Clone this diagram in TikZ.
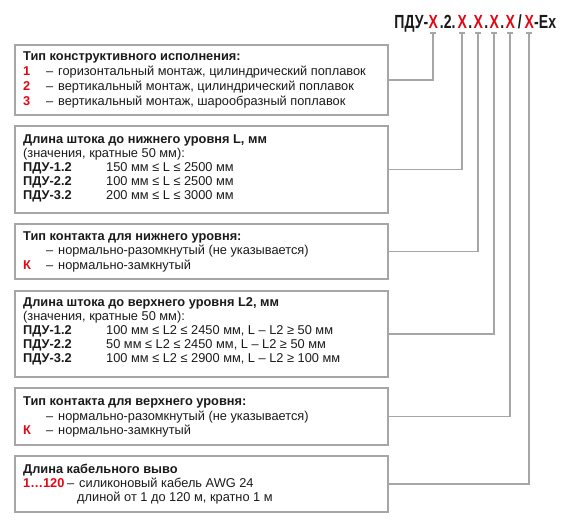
\documentclass[tikz,border=0pt]{standalone}
\usepackage{fontspec}
\setmainfont{Liberation Sans}
\newfontfamily\hdrfont[FakeStretch=0.74]{Liberation Sans}
\definecolor{lnc}{HTML}{A6A6A6}
\definecolor{rd}{HTML}{E30613}
\definecolor{ink}{HTML}{1A1A1A}
\newcommand{\rx}{\makebox[10pt][c]{\color{rd}X}}
\newcommand{\seg}[2]{\makebox[#1][c]{#2}}
\begin{document}
\begin{tikzpicture}[x=1pt,y=-1pt,
  box/.style={draw=lnc, line width=1.5pt, minimum width=373pt, inner sep=0pt},
  txt/.style={anchor=base west, inner sep=0pt, text=ink, font=\fontsize{12.8}{14}\selectfont},
  ttl/.style={txt, font=\fontsize{12.8}{14}\selectfont\bfseries},
  num/.style={ttl, text=rd},
  hdr/.style={anchor=base west, inner sep=0pt, text=ink, font=\hdrfont\fontsize{19}{22}\selectfont\bfseries},
  conn/.style={draw=lnc, line width=1.2pt}
]
\useasboundingbox (0,0) rectangle (568,526);

% header: X centres at 433, 462, 478, 494, 510, 529
\node[hdr] (hd) at (392,29) {\makebox[36pt][r]{ПДУ-}\rx\seg{19pt}{.2.}\rx\seg{6pt}{.}\rx\seg{6pt}{.}\rx\seg{6pt}{.}\rx\seg{9pt}{/}\rx-Ex};
\coordinate (c1) at (433,33);
\coordinate (c2) at (462,33);
\coordinate (c3) at (478,33);
\coordinate (c4) at (494,33);
\coordinate (c5) at (510,33);
\coordinate (c6) at (529,33);

% boxes
\node[box, minimum height=70pt] (b1) at (201.5,80) {};
\node[box, minimum height=87pt] (b2) at (201.5,169.5) {};
\node[box, minimum height=55pt] (b3) at (201.5,251.5) {};
\node[box, minimum height=86pt] (b4) at (201.5,334) {};
\node[box, minimum height=57pt] (b5) at (201.5,416.5) {};
\node[box, minimum height=56pt] (b6) at (201.5,484) {};

% box 1
\node[ttl] (t1) at (23,61) {Тип конструктивного исполнения:};
\node[num] (n11) at (23,76) {1}; \node[txt] (d11) at (46,76) {–};
\node[txt] (s11) at (58,76) {горизонтальный монтаж, цилиндрический поплавок};
\node[num] (n12) at (23,91) {2}; \node[txt] (d12) at (46,91) {–};
\node[txt] (s12) at (58,91) {вертикальный монтаж, цилиндрический поплавок};
\node[num] (n13) at (23,106) {3}; \node[txt] (d13) at (46,106) {–};
\node[txt] (s13) at (58,106) {вертикальный монтаж, шарообразный поплавок};

% box 2
\node[ttl] (t2) at (23,144) {Длина штока до нижнего уровня L, мм};
\node[txt] (s20) at (23,158) {(значения, кратные 50 мм):};
\node[ttl] (m21) at (23,172) {ПДУ-1.2}; \node[txt] (s21) at (106,172) {150 мм ≤ L ≤ 2500 мм};
\node[ttl] (m22) at (23,186) {ПДУ-2.2}; \node[txt] (s22) at (106,186) {100 мм ≤ L ≤ 2500 мм};
\node[ttl] (m23) at (23,200) {ПДУ-3.2}; \node[txt] (s23) at (106,200) {200 мм ≤ L ≤ 3000 мм};

% box 3
\node[ttl] (t3) at (23,241) {Тип контакта для нижнего уровня:};
\node[txt] (d31) at (46,255) {–};
\node[txt] (s31) at (58,255) {нормально-разомкнутый (не указывается)};
\node[num] (n32) at (23,270) {К}; \node[txt] (d32) at (46,270) {–};
\node[txt] (s32) at (58,270) {нормально-замкнутый};

% box 4
\node[ttl] (t4) at (23,307) {Длина штока до верхнего уровня L2, мм};
\node[txt] (s40) at (23,321) {(значения, кратные 50 мм):};
\node[ttl] (m41) at (23,335) {ПДУ-1.2}; \node[txt] (s41) at (106,335) {100 мм ≤ L2 ≤ 2450 мм, L – L2 ≥ 50 мм};
\node[ttl] (m42) at (23,349) {ПДУ-2.2}; \node[txt] (s42) at (106,349) {50 мм ≤ L2 ≤ 2450 мм, L – L2 ≥ 50 мм};
\node[ttl] (m43) at (23,363) {ПДУ-3.2}; \node[txt] (s43) at (106,363) {100 мм ≤ L2 ≤ 2900 мм, L – L2 ≥ 100 мм};

% box 5
\node[ttl] (t5) at (23,406) {Тип контакта для верхнего уровня:};
\node[txt] (d51) at (46,421) {–};
\node[txt] (s51) at (58,421) {нормально-разомкнутый (не указывается)};
\node[num] (n52) at (23,435) {К}; \node[txt] (d52) at (46,435) {–};
\node[txt] (s52) at (58,435) {нормально-замкнутый};

% box 6
\node[ttl] (t6) at (23,474) {Длина кабельного выво};
\node[num] (n61) at (23,488) {1…120}; \node[txt] (d61) at (67,488) {–};
\node[txt] (s61) at (79,488) {силиконовый кабель AWG 24};
\node[txt] (s62) at (77,502) {длиной от 1 до 120 м, кратно 1 м};

% connectors
\foreach \c/\b in {c1/b1,c2/b2,c3/b3,c4/b4,c5/b5,c6/b6}{
  \draw[conn] (\c) |- (\b.east);
  \draw[conn] ([xshift=-3pt]\c) -- ([xshift=3pt]\c);
}
\end{tikzpicture}
\end{document}
